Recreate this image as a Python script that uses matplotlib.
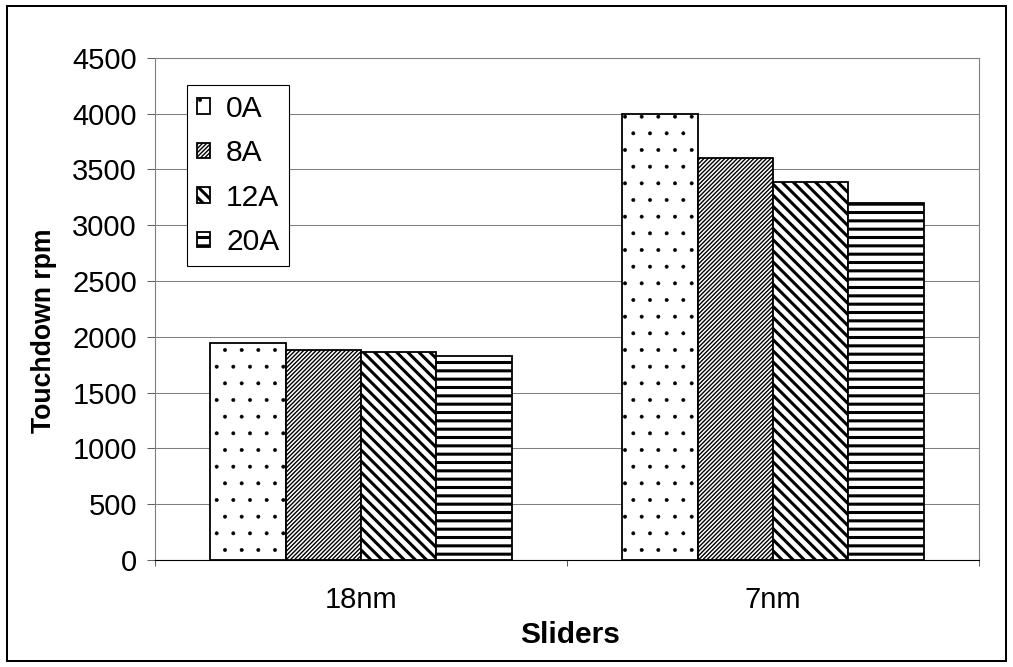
import numpy as np
import matplotlib
matplotlib.use("Agg")
import matplotlib.pyplot as plt
from matplotlib.patches import Rectangle

# touchdown speed per slider, one list per current setting
sliders = ['18nm', '7nm']
currents = ['0A', '8A', '12A', '20A']
rpm_0a = [1945, 4000]
rpm_8a = [1880, 3600]
rpm_12a = [1860, 3390]
rpm_20a = [1825, 3200]
y_ticks = [0, 500, 1000, 1500, 2000, 2500, 3000, 3500, 4000, 4500]

DPI = 100
W, H = 1013, 667

plt.rcParams['font.family'] = ['Liberation Sans', 'DejaVu Sans']
plt.rcParams['hatch.color'] = 'black'

fig = plt.figure(figsize=(W / DPI, H / DPI), dpi=DPI)
fig.patch.set_facecolor('white')

# plot area in pixels: x 155..979, y 57.7..560
ax = fig.add_axes([155 / W, 1 - 560 / H, 824 / W, 502.3 / H])

# hatch pattern and hatch line width (pt) for each series
styles = [('.', 0.35), ('////////', 1.0), ('\\\\\\', 2.2), ('--', 2.2)]
all_series = [rpm_0a, rpm_8a, rpm_12a, rpm_20a]
width = 0.183
x = np.arange(len(sliders))

for i, (vals, (hatch, hlw)) in enumerate(zip(all_series, styles)):
    offset = (i - 1.5) * width
    # hatch line width is taken from rcParams when the patches are made
    with plt.rc_context({'hatch.linewidth': hlw}):
        bars = ax.bar(x + offset, vals, width, facecolor='white', edgecolor='black',
                      linewidth=1.3, hatch=hatch, label=currents[i], zorder=3)
    for b in bars:
        if hasattr(b, 'set_hatch_linewidth'):
            b.set_hatch_linewidth(hlw)

ax.set_xlim(-0.5, 1.5)
ax.set_ylim(0, 4500)
ax.set_yticks(y_ticks)
ax.yaxis.grid(True, color='#808080', linewidth=0.75)
ax.set_axisbelow(True)

ax.set_xticks(x)
ax.set_xticklabels(sliders)
ax.set_xticks([-0.5, 0.5, 1.5], minor=True)
ax.tick_params(axis='x', which='major', length=0, pad=19, labelsize=21)
ax.tick_params(axis='x', which='minor', length=4.4, width=0.75, color='#606060', direction='out')
ax.tick_params(axis='y', length=5.8, width=0.75, color='#606060', pad=7.2, labelsize=21)

for side in ['left', 'right', 'top']:
    ax.spines[side].set_color('#808080')
    ax.spines[side].set_linewidth(0.8)
ax.spines['bottom'].set_color('black')
ax.spines['bottom'].set_linewidth(0.8)

ax.set_xlabel('Sliders', fontsize=21.6, fontweight='bold', va='top')
ax.xaxis.set_label_coords(0.504, -0.121)
ax.set_ylabel('Touchdown rpm', fontsize=19.2, fontweight='bold', va='center')
ax.yaxis.set_label_coords(-0.135, 0.456)

leg = ax.legend(loc='upper left', bbox_to_anchor=((187 - 155) / 824, (560 - 85) / 502.3),
                borderaxespad=0, fontsize=21.6, handlelength=0.42, handleheight=0.42,
                handletextpad=0.55, labelspacing=0.55, borderpad=0.33,
                fancybox=False, framealpha=1, edgecolor='black')
leg.get_frame().set_linewidth(0.8)
for h, (hatch, hlw) in zip(leg.legend_handles, styles):
    if hasattr(h, 'set_hatch_linewidth'):
        h.set_hatch_linewidth(hlw)

# outer chart frame
fig.add_artist(Rectangle((7 / W, 1 - 661 / H), 999 / W, 655 / H, transform=fig.transFigure,
                         fill=False, edgecolor='black', linewidth=1.45))

fig.savefig('out.png', dpi=DPI)
